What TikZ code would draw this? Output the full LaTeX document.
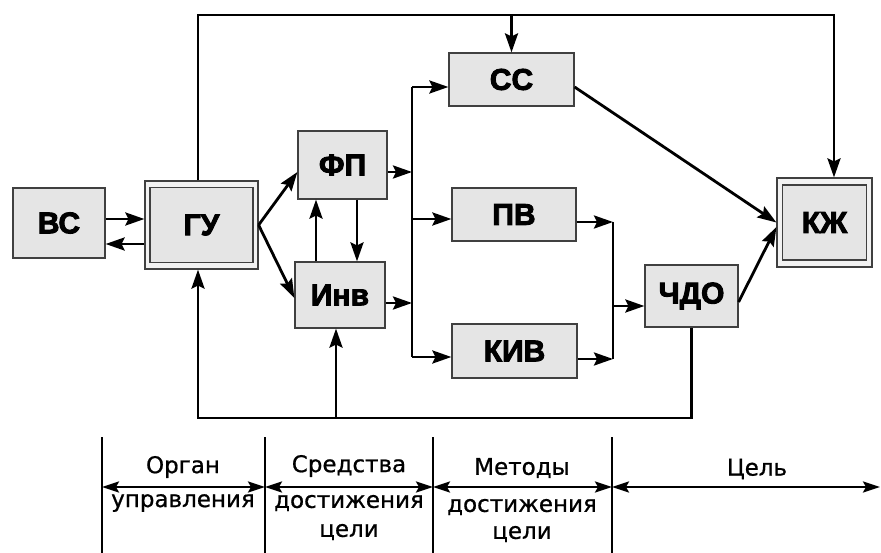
\documentclass[tikz,border=0pt]{standalone}
\usepackage{fontspec}
\setmainfont{DejaVu Sans}
\newfontfamily\lblfont[FakeBold=3]{Liberation Sans Bold}
\newfontfamily\captfont[FakeBold=0.8]{DejaVu Sans}
\usetikzlibrary{arrows.meta,calc}
\tikzset{
  arr/.style={line width=2.8pt,-{Stealth[length=19pt,width=13pt,inset=3pt]}},
  ln/.style={line width=2.8pt},
  dbl/.style={line width=2.4pt,{Stealth[length=17pt,width=11pt,inset=3pt]}-{Stealth[length=17pt,width=11pt,inset=3pt]}},
  sep/.style={line width=1.4pt},
  blk/.style={draw=black!75,line width=1.2pt,fill=gray!20,inner sep=0pt,
    font=\lblfont\fontsize{30}{31}\selectfont},
  outerblk/.style={draw=black!75,line width=1.2pt,fill=gray!10,inner sep=0pt},
  captxt/.style={font=\captfont\fontsize{23}{25}\selectfont,inner sep=0pt}
}
\begin{document}
\begin{tikzpicture}[x=1pt,y=-1pt]
\useasboundingbox[fill=white] (0,0) rectangle (881,553);
% boxes
\node[blk,minimum width=92pt,minimum height=70pt] (bc) at (59,223) {ВС};
\node[outerblk,minimum width=113pt,minimum height=88pt] (gu) at (201.5,225) {};
\node[blk,minimum width=103pt,minimum height=75pt] (gui) at (gu.center) {ГУ};
\node[blk,minimum width=89pt,minimum height=68pt] (fp) at (342.5,165) {ФП};
\node[blk,minimum width=90pt,minimum height=66pt] (inv) at (340,295) {Инв};
\node[blk,minimum width=125pt,minimum height=53pt] (cc) at (511.5,79.5) {СС};
\node[blk,minimum width=124pt,minimum height=53pt] (pv) at (514,214.5) {ПВ};
\node[blk,minimum width=125pt,minimum height=54pt] (kiv) at (514.5,351) {КИВ};
\node[blk,minimum width=93pt,minimum height=62pt] (chdo) at (691.5,296) {ЧДО};
\node[outerblk,minimum width=95pt,minimum height=89pt] (kz) at (824.5,222.5) {};
\node[blk,minimum width=84pt,minimum height=75pt] (kzi) at (kz.center) {КЖ};
% coordinates
\coordinate (top1) at (198,15);
\coordinate (top2) at (834,15);
\coordinate (bus1) at (412,87);
\coordinate (bus2) at (412,357);
\coordinate (bus3) at (412,219);
\coordinate (m1) at (613,222);
\coordinate (m2) at (613,359);
\coordinate (m3) at (613,306);
\coordinate (fbl) at (198,418);
% BC <-> GU
\draw[arr] ([yshift=4pt]bc.east) -- ([yshift=4pt]bc.east -| gu.west);
\draw[arr] ([yshift=-21pt]bc.east -| gu.west) -- ([yshift=-21pt]bc.east);
% top loop
\draw[ln,line join=miter] (gu.north -| top1) -- (top1) -- (top2) -- ([yshift=-20pt]top2);
\draw[arr] (top2) -- (top2 |- kz.north);
\draw[arr] (cc.north |- top1) -- (cc.north);
% GU -> FP, Inv
\draw[arr] (gu.east) -- ([yshift=-7pt]fp.west);
\draw[arr] (gu.east) -- ([yshift=-3pt]inv.west);
% FP <-> Inv
\draw[arr] ([xshift=-24pt]inv.north) -- ([xshift=-24pt]inv.north |- fp.south);
\draw[arr] ([xshift=14.5pt]fp.south) -- ([xshift=14.5pt]fp.south |- inv.north);
% to bus
\draw[arr] ([yshift=-7pt]fp.east) -- ([yshift=-7pt]fp.east -| bus1);
\draw[arr] ([yshift=-8pt]inv.east) -- ([yshift=-8pt]inv.east -| bus1);
\draw[ln] (bus1) -- (bus2);
\draw[arr] (bus1) -- (bus1 -| cc.west);
\draw[arr] (bus3) -- (bus3 -| pv.west);
\draw[arr] (bus2) -- (bus2 -| kiv.west);
% PV, KIV -> CHDO
\draw[arr] (pv.east |- m1) -- (m1);
\draw[ln] (m1) -- (m2);
\draw[arr] (kiv.east |- m2) -- (m2);
\draw[arr] (m3) -- (m3 -| chdo.west);
% to KZ
\draw[arr] ([yshift=-7.5pt]cc.east) -- (kz.west);
\draw[arr] ([yshift=-6pt]chdo.east) -- ([yshift=-4.5pt]kz.west);
% feedback
\draw[ln,line join=miter] (chdo.south) -- (chdo.south |- fbl) -- (fbl) -- ([yshift=20pt]fbl);
\draw[arr] (fbl) -- (gu.south -| fbl);
\draw[arr] ([xshift=-4pt]inv.south |- fbl) -- ([xshift=-4pt]inv.south);
% bottom scale
\coordinate (s1) at (102,437);
\coordinate (s2) at (265,437);
\coordinate (s3) at (433,437);
\coordinate (s4) at (612,437);
\coordinate (s5) at (880,487);
\foreach \c in {s1,s2,s3,s4} \draw[sep] (\c) -- ++(0,116);
\draw[dbl] ($(s1)+(0,50)$) -- ($(s2)+(0,50)$);
\draw[dbl] ($(s2)+(0,50)$) -- ($(s3)+(0,50)$);
\draw[dbl] ($(s3)+(0,50)$) -- ($(s4)+(0,50)$);
\draw[dbl] ($(s4)+(0,50)$) -- (s5);
\node[captxt] (t1a) at (183,467) {Орган};
\node[captxt] (t1b) at (183,503) {управления};
\node[captxt] (t2a) at (349,466) {Средства};
\node[captxt] (t2b) at (349,503) {достижения};
\node[captxt] (t2c) at (349,532) {цели};
\node[captxt] (t3a) at (522,468) {Методы};
\node[captxt] (t3b) at (522,507) {достижения};
\node[captxt] (t3c) at (522,534) {цели};
\node[captxt] (t4a) at (757,469) {Цель};
\end{tikzpicture}
\end{document}
